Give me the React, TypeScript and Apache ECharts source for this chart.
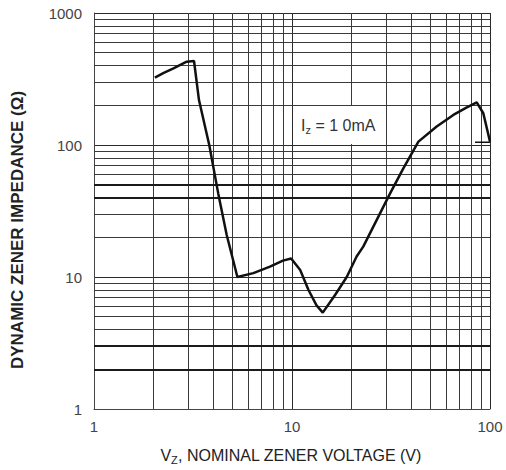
import React, { useEffect, useRef } from "react";
import * as echarts from "echarts";

// Dynamic zener impedance vs nominal zener voltage (Iz = 1.0 mA)
const voltage = [2.03, 2.25, 2.52, 2.94, 3.2, 3.39, 3.82, 4.24, 4.68, 5.3, 6.38, 7.74, 9.0, 9.9, 11.0, 12.1, 13.3, 14.3, 16.5, 18.9, 21.2, 22.9, 31.3, 36.5, 43.5, 53.8, 65.3, 76.0, 85.7, 92.5, 100];
const impedance = [324, 352, 381, 428, 433, 219, 100, 43, 20.8, 10, 10.7, 12.0, 13.3, 13.8, 11.3, 8.0, 6.1, 5.37, 7.3, 10.0, 14.3, 17.0, 43, 66.5, 106, 138, 169, 192, 210, 174, 106];
const tailVoltage = [84, 100];
const tailImpedance = [105, 105];

const xMinorGrid = [2, 3, 4, 5, 6, 7, 8, 9, 20, 30, 40, 50, 60, 70, 80, 90];
const yMinorGrid = [2, 3, 4, 5, 6, 7, 8, 9, 20, 30, 40, 50, 60, 70, 80, 90, 200, 300, 400, 500, 600, 700, 800, 900];
const yHeavyGrid = [2, 3, 40, 50];

const FONT = "'Liberation Sans', Arial, Helvetica, sans-serif";

export default function App() {
  const ref = useRef<HTMLDivElement>(null);
  useEffect(() => {
    if (!ref.current) return;
    const chart = echarts.init(ref.current, undefined, { renderer: "svg" });
    const plain = { symbol: ["none", "none"], silent: true, label: { show: false }, emphasis: { disabled: true } };
    chart.setOption({
      animation: false,
      backgroundColor: "#ffffff",
      grid: { left: 94, right: 16, top: 13, bottom: 61, containLabel: false },
      xAxis: {
        type: "log",
        logBase: 10,
        min: 1,
        max: 100,
        axisLine: { show: true, lineStyle: { color: "#444", width: 1 } },
        axisTick: { show: false },
        axisLabel: { color: "#444", fontSize: 15, fontFamily: FONT, margin: 10, formatter: (v: number) => String(Math.round(v)) },
        splitLine: { show: true, lineStyle: { color: "#2a2a2a", width: 1 } },
      },
      yAxis: {
        type: "log",
        logBase: 10,
        min: 1,
        max: 1000,
        axisLine: { show: true, lineStyle: { color: "#444", width: 1 } },
        axisTick: { show: false },
        axisLabel: { color: "#444", fontSize: 15, fontFamily: FONT, margin: 12, formatter: (v: number) => String(Math.round(v)) },
        splitLine: { show: true, lineStyle: { color: "#2a2a2a", width: 1 } },
      },
      series: [
        {
          type: "line",
          data: [[1, 1]],
          symbol: "none",
          lineStyle: { width: 0 },
          silent: true,
          z: 1,
          markLine: {
            ...plain,
            lineStyle: { type: "solid", color: "#3a3a3a", width: 1 },
            data: [
              ...xMinorGrid.map((v) => ({ xAxis: v })),
              ...yMinorGrid.filter((v) => !yHeavyGrid.includes(v)).map((v) => ({ yAxis: v })),
            ],
          },
        },
        {
          type: "line",
          data: [[1, 1]],
          symbol: "none",
          lineStyle: { width: 0 },
          silent: true,
          z: 1,
          markLine: {
            ...plain,
            lineStyle: { type: "solid", color: "#1a1a1a", width: 2 },
            data: yHeavyGrid.map((v) => ({ yAxis: v })),
          },
        },
        {
          type: "line",
          data: voltage.map((v, i) => [v, impedance[i]]),
          symbol: "none",
          smooth: false,
          lineStyle: { color: "#111", width: 2.5 },
          z: 5,
        },
        {
          type: "line",
          data: tailVoltage.map((v, i) => [v, tailImpedance[i]]),
          symbol: "none",
          lineStyle: { color: "#111", width: 1.5 },
          z: 5,
        },
      ],
      graphic: [
        {
          type: "text",
          x: 296,
          y: 125,
          z: 10,
          style: {
            text: "I{sub|z} = 1 0mA",
            font: `16px ${FONT}`,
            fill: "#333",
            textAlign: "left",
            textVerticalAlign: "middle",
            backgroundColor: "#fff",
            padding: [9, 6, 9, 5],
            rich: { sub: { fontSize: 11, fontFamily: FONT, fill: "#333", padding: [9, 0, 0, 0] } },
          },
        },
        {
          type: "text",
          x: 17,
          y: 230,
          rotation: Math.PI / 2,
          style: {
            text: "DYNAMIC ZENER IMPEDANCE (Ω)",
            font: `bold 17px ${FONT}`,
            fill: "#222",
            textAlign: "center",
            textVerticalAlign: "middle",
          },
        },
        {
          type: "text",
          x: 291,
          y: 455,
          style: {
            text: "V{sub|Z}, NOMINAL ZENER VOLTAGE (V)",
            font: `16px ${FONT}`,
            fill: "#222",
            textAlign: "center",
            textVerticalAlign: "middle",
            rich: { sub: { fontSize: 11, fontFamily: FONT, fill: "#222", padding: [9, 0, 0, 0] } },
          },
        },
      ],
    });
    return () => chart.dispose();
  }, []);
  return <div ref={ref} style={{ position: "fixed", left: 0, top: 0, width: 506, height: 470 }} />;
}
